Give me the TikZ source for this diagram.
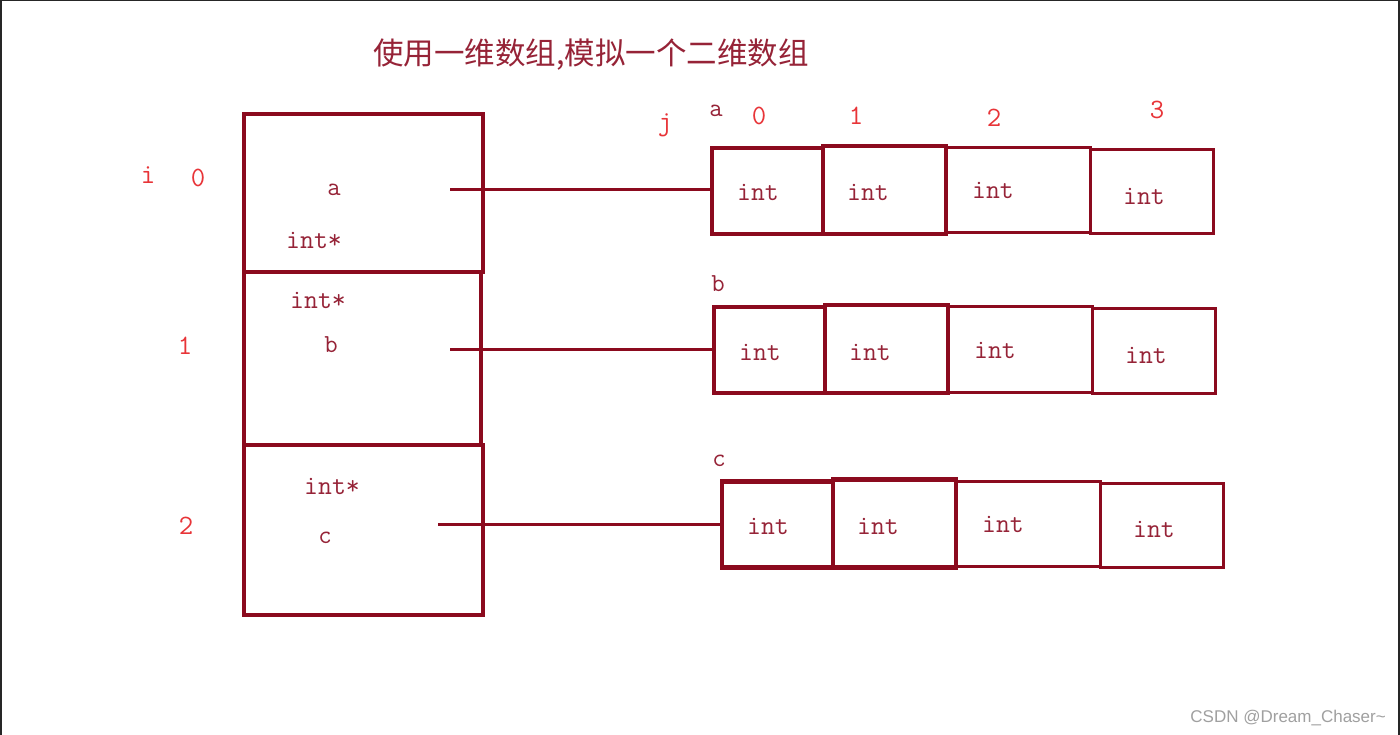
\documentclass[tikz,border=0pt]{standalone}
\usepackage{fontspec}
\setmainfont{Liberation Serif}
\newfontfamily\cjk{Noto Sans CJK SC}
\newfontfamily\wm{Liberation Sans}
\definecolor{dred}{RGB}{139,10,30}
\definecolor{tred}{RGB}{150,35,55}
\definecolor{lred}{RGB}{232,52,56}
\definecolor{wmgray}{RGB}{160,160,160}
\begin{document}
\begin{tikzpicture}[x=1pt,y=-1pt,
  box/.style={draw=dred,line width=3.2pt},
  cellthick/.style={draw=dred,line width=4.2pt,rectangle,inner sep=0pt},
  cellthin/.style={draw=dred,line width=3pt,rectangle,inner sep=0pt},
  link/.style={draw=dred,line width=3pt},
  itxt/.style={text=tred,font=\ttfamily\fontsize{27}{27}\selectfont,inner sep=0pt},
  num/.style={text=lred,font=\ttfamily\fontsize{28}{28}\selectfont,inner sep=0pt},
  vname/.style={text=tred,font=\ttfamily\fontsize{26}{26}\selectfont,inner sep=0pt}]
\useasboundingbox (0,0) rectangle (1400,735);
\fill[white] (0,0) rectangle (1400,735);
% outer frame lines
\draw[line width=2pt,black!85] (1,735) -- (1,0.5) -- (1398.5,0.5) -- (1398.5,735);
% title
\node[text=tred,font=\cjk\fontsize{30.5}{30.5}\selectfont,inner sep=0pt] (title) at (591,55) {使用一维数组,模拟一个二维数组};
% pointer array (big box)
\node[box,rectangle,inner sep=0pt,minimum width=239pt,minimum height=158pt] (p0) at (363.5,193) {};
\node[box,rectangle,inner sep=0pt,minimum width=237pt,minimum height=173pt] (p1) at (362.5,358.5) {};
\node[box,rectangle,inner sep=0pt,minimum width=239pt,minimum height=170pt] (p2) at (363.5,530) {};
% texts in big box
\node[vname] (ta) at (334,190) {a};
\node[itxt] (tp0) at (314,240) {int*};
\node[itxt] (tp1) at (318,300) {int*};
\node[vname] (tb) at (331,345) {b};
\node[itxt] (tp2) at (332,486) {int*};
\node[vname] (tc) at (325,538) {c};
% index labels
\node[num] (li) at (148,175) {i};
\node[num] (l0) at (198,178) {0};
\node[num] (l1) at (185,346) {1};
\node[num] (l2) at (186,526) {2};
\node[num] (lj) at (665,125) {j};
\node[num] (c0) at (759,116) {0};
\node[num] (c1) at (856,116) {1};
\node[num] (c2) at (994,118) {2};
\node[num] (c3) at (1157,110) {3};
\node[vname] (na) at (716,111) {a};
\node[vname] (nb) at (718,284) {b};
\node[vname] (nc) at (719,461) {c};
% row a
\node[cellthick,minimum width=111pt,minimum height=86pt] (a0) at (767.5,191) {};
\node[cellthick,minimum width=123pt,minimum height=88pt] (a1) at (884.5,190) {};
\node[cellthin,minimum width=144pt,minimum height=85pt] (a2) at (1018,190.5) {};
\node[cellthin,minimum width=123pt,minimum height=84pt] (a3) at (1151.5,192) {};
% row b
\node[cellthick,minimum width=111pt,minimum height=86pt] (b0) at (769.5,350) {};
\node[cellthick,minimum width=123pt,minimum height=88pt] (b1) at (886.5,349) {};
\node[cellthin,minimum width=144pt,minimum height=85pt] (b2) at (1020,349.5) {};
\node[cellthin,minimum width=123pt,minimum height=84pt] (b3) at (1153.5,351) {};
% row c
\node[cellthick,minimum width=111pt,minimum height=86pt] (r0) at (777.5,524.5) {};
\node[cellthick,minimum width=123pt,minimum height=88pt] (r1) at (894.5,523.5) {};
\node[cellthin,minimum width=144pt,minimum height=85pt] (r2) at (1028,524) {};
\node[cellthin,minimum width=123pt,minimum height=84pt] (r3) at (1161.5,525.5) {};
% int texts
\node[itxt] (ia0) at (758,192) {int};
\node[itxt] (ia1) at (868,192) {int};
\node[itxt] (ia2) at (993,190) {int};
\node[itxt] (ia3) at (1144,196) {int};
\node[itxt] (ib0) at (760,352) {int};
\node[itxt] (ib1) at (870,352) {int};
\node[itxt] (ib2) at (995,350) {int};
\node[itxt] (ib3) at (1146,355) {int};
\node[itxt] (ic0) at (768,526) {int};
\node[itxt] (ic1) at (878,526) {int};
\node[itxt] (ic2) at (1003,524) {int};
\node[itxt] (ic3) at (1154,529) {int};
% connectors
\coordinate (sa) at (450,190);
\coordinate (sb) at (450,349);
\coordinate (sc) at (438,524);
\draw[link] (sa) -- (a0.west |- sa);
\draw[link] (sb) -- (b0.west |- sb);
\draw[link] (sc) -- (r0.west |- sc);
% watermark
\node[text=wmgray,font=\wm\fontsize{17}{17}\selectfont,anchor=east,inner sep=0pt] (wmk) at (1386,718) {CSDN @Dream\_Chaser\textasciitilde};
\end{tikzpicture}
\end{document}
